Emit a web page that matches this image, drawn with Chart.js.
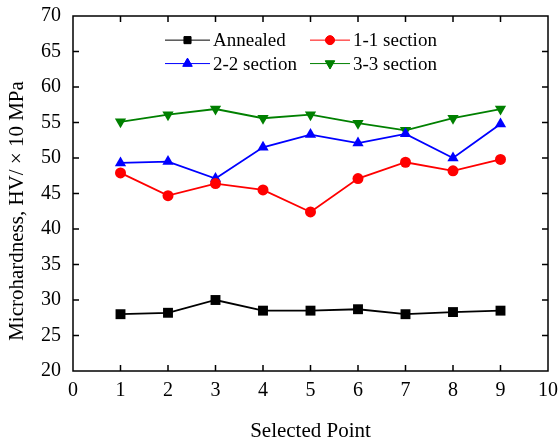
<!DOCTYPE html>
<html>
<head>
<meta charset="utf-8">
<script src="https://cdn.jsdelivr.net/npm/chart.js@4/dist/chart.umd.min.js"></script>
<style>
  body { margin: 0; background: #fff; }
  #wrap { width: 560px; height: 444px; }
</style>
</head>
<body>
<div id="wrap"><canvas id="c" width="560" height="444"></canvas></div>
<script>
const points = [1, 2, 3, 4, 5, 6, 7, 8, 9];
const annealed = [28.0, 28.2, 30.0, 28.5, 28.5, 28.7, 28.0, 28.3, 28.5];
const sec11 = [47.9, 44.7, 46.4, 45.5, 42.4, 47.1, 49.4, 48.2, 49.8];
const sec22 = [49.3, 49.5, 47.1, 51.5, 53.3, 52.1, 53.4, 50.0, 54.8];
const sec33 = [55.1, 56.1, 56.9, 55.6, 56.1, 54.9, 53.9, 55.6, 56.9];

const FONT = '"Liberation Serif", "Times New Roman", serif';
const yTitle = 'Microhardness, HV/ × 10 MPa';

function toXY(vals) {
    return vals.map((v, i) => ({ x: points[i], y: v }));
}

const series = [
    { label: 'Annealed', data: annealed, color: '#000000', style: 'rect', radius: 7, rot: 0, legR: 5 },
    { label: '1-1 section', data: sec11, color: '#ff0000', style: 'circle', radius: 5.5, rot: 0, legR: 4.5 },
    { label: '2-2 section', data: sec22, color: '#0000ff', style: 'triangle', radius: 6.5, rot: 0, legR: 5.5 },
    { label: '3-3 section', data: sec33, color: '#008000', style: 'triangle', radius: 6.5, rot: 180, legR: 5.5 }
];

// 坐标框、内向刻度、纵轴标题和图内图例
const framePlugin = {
    id: 'frame',
    afterDraw(chart) {
        const ctx = chart.ctx;
        const a = chart.chartArea;
        const xs = chart.scales.x, ys = chart.scales.y;
        ctx.save();
        ctx.strokeStyle = '#000';
        ctx.lineWidth = 1.5;
        ctx.strokeRect(a.left, a.top, a.right - a.left, a.bottom - a.top);
        ctx.beginPath();
        for (let v = 1; v < 10; v++) {
            const px = xs.getPixelForValue(v);
            ctx.moveTo(px, a.bottom); ctx.lineTo(px, a.bottom - 6);
            ctx.moveTo(px, a.top); ctx.lineTo(px, a.top + 6);
        }
        for (let v = 25; v < 70; v += 5) {
            const py = ys.getPixelForValue(v);
            ctx.moveTo(a.left, py); ctx.lineTo(a.left + 6, py);
            ctx.moveTo(a.right, py); ctx.lineTo(a.right - 6, py);
        }
        ctx.stroke();

        // 纵轴标题（比图区中心略低）
        ctx.save();
        ctx.translate(17, 211);
        ctx.rotate(-Math.PI / 2);
        ctx.font = '21px ' + FONT;
        ctx.fillStyle = '#000';
        ctx.textAlign = 'center';
        ctx.textBaseline = 'middle';
        ctx.fillText(yTitle, 0, 0);
        ctx.restore();

        // 图例
        const cols = [{ x0: 165, x1: 210 }, { x0: 310, x1: 350 }];
        const rows = [ys.getPixelForValue(66.6), ys.getPixelForValue(63.3)];
        ctx.font = '19px ' + FONT;
        ctx.textBaseline = 'middle';
        series.forEach((s, i) => {
            const c = cols[i % 2], cy = rows[Math.floor(i / 2)];
            const cx = (c.x0 + c.x1) / 2;
            ctx.strokeStyle = s.color;
            ctx.fillStyle = s.color;
            ctx.lineWidth = 1;
            ctx.beginPath();
            ctx.moveTo(c.x0, cy); ctx.lineTo(c.x1, cy);
            ctx.stroke();
            Chart.helpers.drawPoint(ctx, { pointStyle: s.style, radius: s.legR, rotation: s.rot, borderWidth: 1 }, cx, cy);
            ctx.fill();
            ctx.fillStyle = '#000';
            ctx.fillText(s.label, c.x1 + 3, cy + 1);
        });
        ctx.restore();
    }
};

new Chart(document.getElementById('c'), {
    type: 'line',
    data: {
        datasets: series.map(s => ({
            label: s.label,
            data: toXY(s.data),
            borderColor: s.color,
            backgroundColor: s.color,
            borderWidth: 1.8,
            pointStyle: s.style,
            pointRadius: s.radius,
            pointRotation: s.rot,
            pointBorderWidth: 0,
            tension: 0
        }))
    },
    options: {
        responsive: false,
        animation: false,
        layout: { padding: { top: 16, right: 12, left: 0, bottom: 0 } },
        plugins: {
            legend: { display: false },
            tooltip: { enabled: false }
        },
        scales: {
            x: {
                type: 'linear',
                min: 0, max: 10,
                ticks: { stepSize: 1, color: '#000', font: { family: FONT, size: 20 }, padding: 0, maxRotation: 0 },
                grid: { display: false },
                border: { display: false },
                title: { display: true, text: 'Selected Point', color: '#000', font: { family: FONT, size: 21 }, padding: { top: 20, bottom: 0 } },
                afterFit: s => { s.height = 73; }
            },
            y: {
                min: 20, max: 70,
                ticks: { stepSize: 5, color: '#000', font: { family: FONT, size: 20 }, padding: 4 },
                grid: { display: false },
                border: { display: false },
                afterFit: s => { s.width = 73; }
            }
        }
    },
    plugins: [framePlugin]
});
</script>
</body>
</html>
